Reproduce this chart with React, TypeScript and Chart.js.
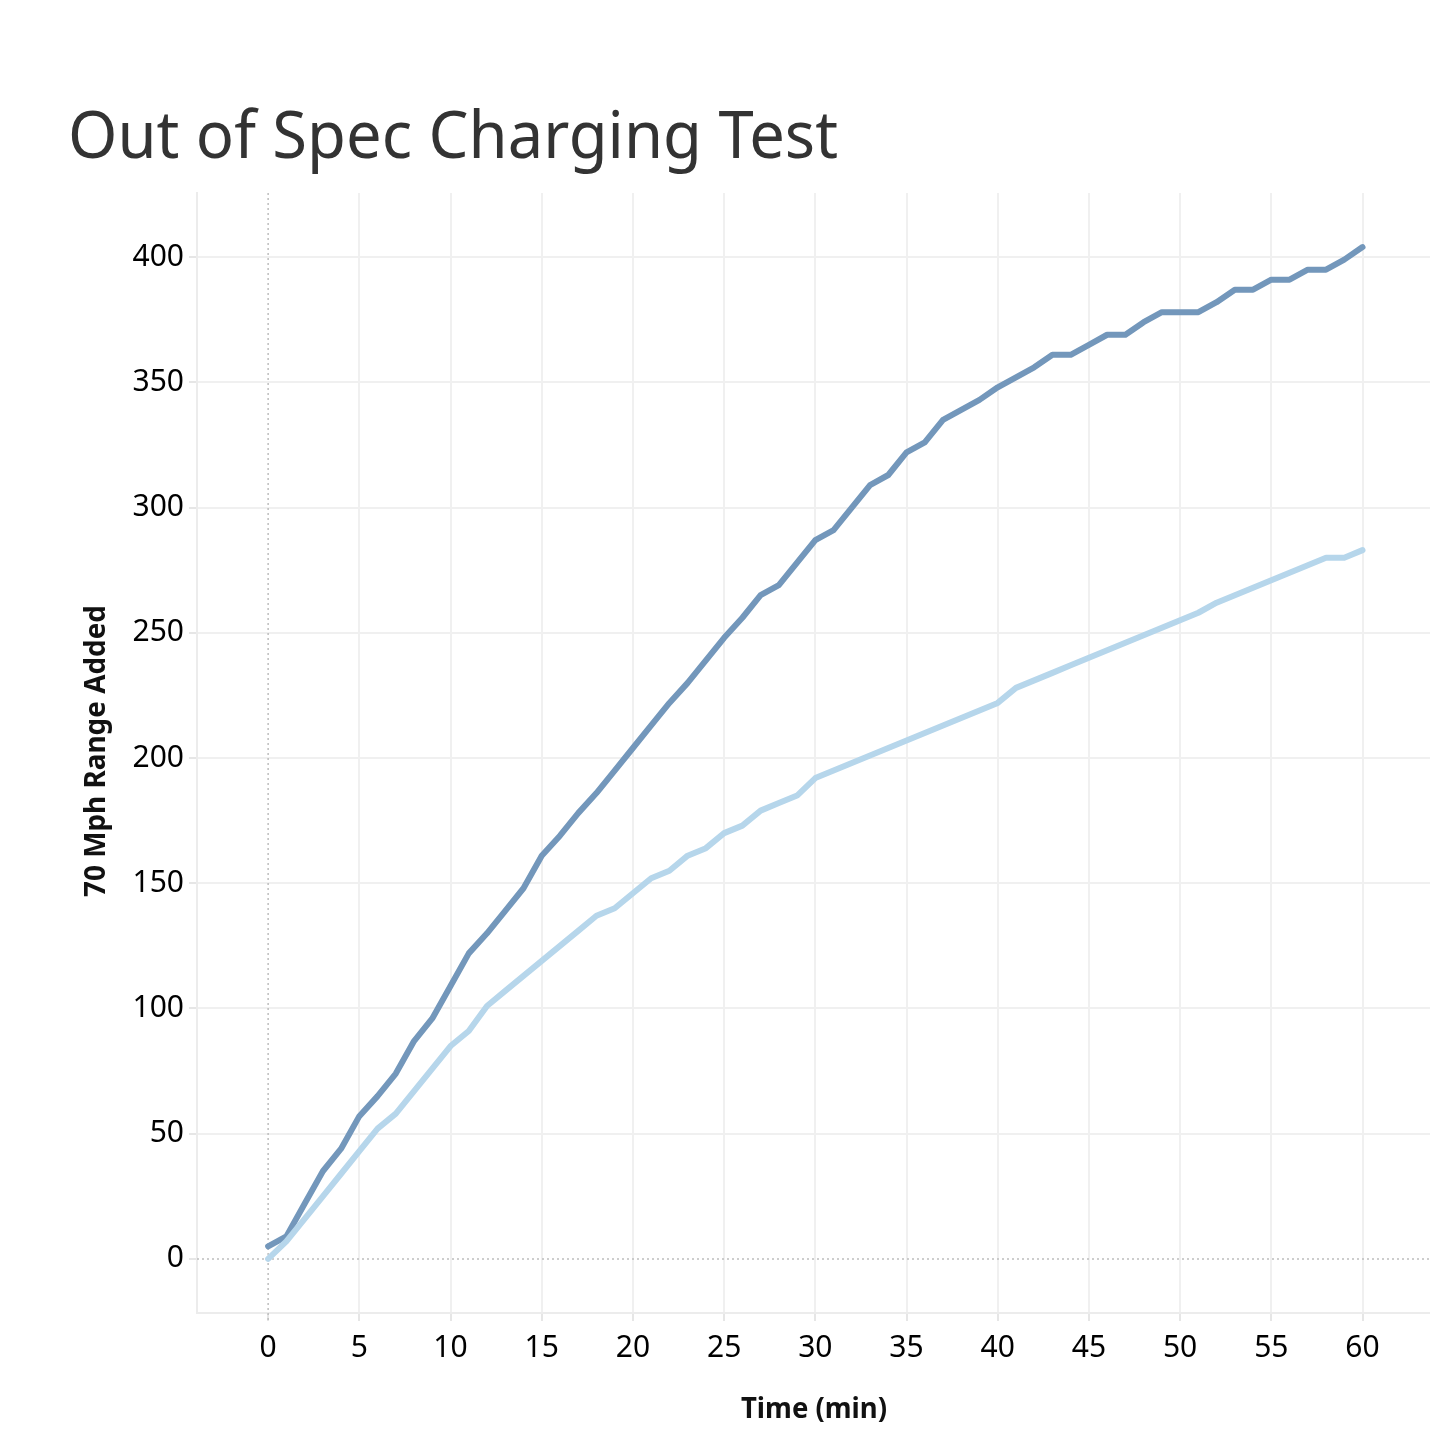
import React, { useEffect, useRef } from 'react';
import { Chart, registerables } from 'chart.js';

Chart.register(...registerables);

const chartTitle = 'Out of Spec Charging Test';
const xAxisTitle = 'Time (min)';
const yAxisTitle = '70 Mph Range Added';

const minutes = [
  0, 1, 2, 3, 4, 5, 6, 7, 8, 9, 10, 11, 12, 13, 14, 15, 16, 17, 18, 19, 20,
  21, 22, 23, 24, 25, 26, 27, 28, 29, 30, 31, 32, 33, 34, 35, 36, 37, 38, 39, 40,
  41, 42, 43, 44, 45, 46, 47, 48, 49, 50, 51, 52, 53, 54, 55, 56, 57, 58, 59, 60,
];

const darkSeries = [
  5, 9, 22, 35, 44, 57, 65, 74, 87, 96, 109, 122, 130, 139, 148, 161, 169, 178, 186, 195, 204,
  213, 222, 230, 239, 248, 256, 265, 269, 278, 287, 291, 300, 309, 313, 322, 326, 335, 339, 343, 348,
  352, 356, 361, 361, 365, 369, 369, 374, 378, 378, 378, 382, 387, 387, 391, 391, 395, 395, 399, 404,
];

const lightSeries = [
  0, 7, 16, 25, 34, 43, 52, 58, 67, 76, 85, 91, 101, 107, 113, 119, 125, 131, 137, 140, 146,
  152, 155, 161, 164, 170, 173, 179, 182, 185, 192, 195, 198, 201, 204, 207, 210, 213, 216, 219, 222,
  228, 231, 234, 237, 240, 243, 246, 249, 252, 255, 258, 262, 265, 268, 271, 274, 277, 280, 280, 283,
];

const xTickValues = [0, 5, 10, 15, 20, 25, 30, 35, 40, 45, 50, 55, 60];
const yTickValues = [0, 50, 100, 150, 200, 250, 300, 350, 400];

const W = 1430;
const H = 1446;

export default function App() {
  const ref = useRef<HTMLCanvasElement | null>(null);

  useEffect(() => {
    if (!ref.current) return;

    const overlay = {
      id: 'overlay',
      beforeDatasetsDraw(chart: any) {
        const { ctx, chartArea, scales } = chart;
        const x0 = scales.x.getPixelForValue(0);
        const y0 = scales.y.getPixelForValue(0);
        ctx.save();
        ctx.strokeStyle = '#bdbdbd';
        ctx.lineWidth = 1.5;
        ctx.setLineDash([2, 3]);
        ctx.beginPath();
        ctx.moveTo(x0, chartArea.top);
        ctx.lineTo(x0, chartArea.bottom + 8);
        ctx.moveTo(chartArea.left, y0);
        ctx.lineTo(chartArea.right, y0);
        ctx.stroke();
        ctx.restore();
      },
      afterDraw(chart: any) {
        const { ctx } = chart;
        ctx.save();
        ctx.fillStyle = '#333333';
        ctx.font = '65px "Noto Sans"';
        ctx.textAlign = 'left';
        ctx.textBaseline = 'alphabetic';
        ctx.fillText(chartTitle, 68, 158, 770);

        ctx.fillStyle = '#111111';
        ctx.font = 'bold 28px "Noto Sans"';
        ctx.textAlign = 'center';
        ctx.textBaseline = 'middle';
        ctx.fillText(xAxisTitle, 814, 1410, 146);

        ctx.translate(97, 751);
        ctx.rotate(-Math.PI / 2);
        ctx.fillText(yAxisTitle, 0, 0, 292);
        ctx.restore();
      },
    };

    const chart = new Chart(ref.current, {
      type: 'line',
      data: {
        datasets: [
          {
            label: 'Light',
            data: minutes.map((m, i) => ({ x: m, y: lightSeries[i] })),
            borderColor: '#b6d6eb',
            borderWidth: 6,
            pointRadius: 0,
            borderCapStyle: 'round',
            borderJoinStyle: 'round',
            tension: 0,
            fill: false,
          },
          {
            label: 'Dark',
            data: minutes.map((m, i) => ({ x: m, y: darkSeries[i] })),
            borderColor: '#7397bb',
            borderWidth: 6,
            pointRadius: 0,
            borderCapStyle: 'round',
            borderJoinStyle: 'round',
            tension: 0,
            fill: false,
          },
        ],
      },
      options: {
        responsive: false,
        devicePixelRatio: 1,
        animation: false,
        layout: { padding: { top: 193, right: 0, bottom: 0, left: 0 } },
        plugins: {
          legend: { display: false },
          tooltip: { enabled: false },
          title: { display: false },
        },
        scales: {
          x: {
            type: 'linear',
            min: -3.9,
            max: 63.7,
            afterFit: (s: any) => {
              s.height = 133;
            },
            afterBuildTicks: (s: any) => {
              s.ticks = xTickValues.map((v) => ({ value: v }));
            },
            ticks: {
              color: '#000000',
              font: { family: 'Noto Sans', size: 30 },
              padding: 9,
              maxRotation: 0,
              autoSkip: false,
            },
            grid: {
              color: (c: any) => (c.tick && c.tick.value === 0 ? 'rgba(0,0,0,0)' : '#f0f0f0'),
              lineWidth: 2,
              tickColor: '#e6e6e6',
              tickLength: 8,
            },
            border: { color: '#ececec', width: 2 },
          },
          y: {
            type: 'linear',
            min: -21.6,
            max: 425.6,
            afterFit: (s: any) => {
              s.width = 197;
            },
            afterBuildTicks: (s: any) => {
              s.ticks = yTickValues.map((v) => ({ value: v }));
            },
            ticks: {
              color: '#000000',
              font: { family: 'Noto Sans', size: 30 },
              padding: 5,
            },
            grid: {
              color: (c: any) => (c.tick && c.tick.value === 0 ? 'rgba(0,0,0,0)' : '#f0f0f0'),
              lineWidth: 2,
              tickColor: '#e6e6e6',
              tickLength: 8,
            },
            border: { color: '#ececec', width: 2 },
          },
        },
      },
      plugins: [overlay],
    } as any);

    return () => chart.destroy();
  }, []);

  return (
    <div style={{ position: 'absolute', left: 0, top: 0, width: W, height: H, background: '#ffffff' }}>
      <canvas ref={ref} width={W} height={H} style={{ width: W, height: H, display: 'block' }} />
    </div>
  );
}
